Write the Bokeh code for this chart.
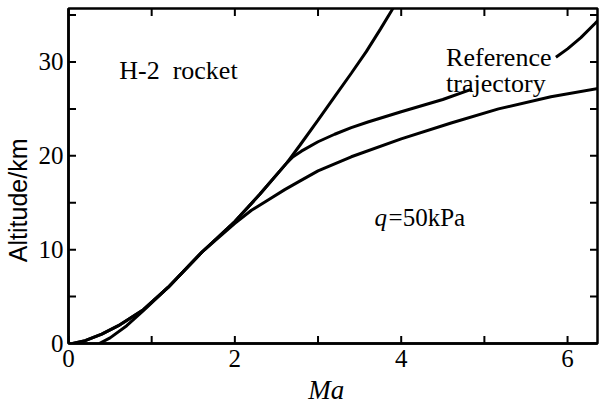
import math
from bokeh.plotting import figure
from bokeh.models import LinearAxis, Label, FixedTicker, Range1d
from bokeh.embed import file_html
from bokeh.resources import INLINE

# H-2 rocket (steep curve)
ma_rocket = [0.37, 0.5, 0.7, 0.9, 1.2, 1.6, 2.0, 2.3, 2.63, 2.78, 3.0, 3.2, 3.4, 3.58, 3.75, 3.88, 3.95]
alt_rocket = [0.0, 0.6, 1.9, 3.5, 6.0, 9.7, 13.0, 15.9, 19.3, 21.1, 23.8, 26.3, 28.8, 31.1, 33.5, 35.4, 36.5]

# Reference trajectory (lower part, then upper part after the label)
ma_ref_low = [0.05, 0.2, 0.4, 0.6, 0.9, 1.2, 1.6, 2.0, 2.3, 2.63, 2.7, 2.8, 3.0, 3.2, 3.4, 3.6, 4.0, 4.5, 4.85]
alt_ref_low = [0.0, 0.3, 1.0, 1.9, 3.6, 6.0, 9.7, 13.0, 15.9, 19.3, 19.9, 20.5, 21.5, 22.3, 23.0, 23.6, 24.7, 26.0, 27.1]
ma_ref_up = [5.86, 6.0, 6.16, 6.33, 6.45]
alt_ref_up = [30.5, 31.4, 32.6, 34.1, 35.2]

# q = 50 kPa
ma_q = [0.05, 0.2, 0.4, 0.6, 0.9, 1.2, 1.6, 2.0, 2.2, 2.4, 2.6, 2.78, 3.0, 3.4, 4.0, 4.6, 5.17, 5.8, 6.45]
alt_q = [0.0, 0.3, 1.0, 1.9, 3.6, 6.0, 9.7, 12.8, 14.2, 15.3, 16.4, 17.3, 18.4, 19.9, 21.8, 23.5, 25.0, 26.3, 27.3]

x_major = [0, 2, 4, 6]
x_minor = [1, 3, 5]
y_major = [0, 10, 20, 30]
y_minor = [5, 15, 25, 35]

X_MIN, X_MAX = 0.0, 6.36
Y_MIN, Y_MAX = 0.0, 35.7

SERIF = "Liberation Serif"
SANS = "Liberation Sans"

p = figure(width=600, height=408, output_backend="svg", toolbar_location=None,
           x_range=Range1d(X_MIN, X_MAX), y_range=Range1d(Y_MIN, Y_MAX),
           min_border_left=67, min_border_right=3, min_border_top=8, min_border_bottom=65,
           x_axis_location=None, y_axis_location=None)
p.grid.visible = False
p.background_fill_color = "white"
p.border_fill_color = "white"
p.outline_line_color = "black"
p.outline_line_width = 2.5

def style_axis(ax, major):
    ax.ticker = FixedTicker(ticks=major)
    ax.axis_line_color = "black"
    ax.axis_line_width = 2.5
    ax.major_tick_in = 0
    ax.major_tick_out = 0
    ax.minor_tick_in = 0
    ax.minor_tick_out = 0
    ax.major_label_text_font = SERIF
    ax.major_label_text_color = "black"
    ax.major_label_text_font_size = "25px"

xb = LinearAxis(axis_label="Ma" + "\u00a0" * 2)
style_axis(xb, x_major)
xb.major_label_standoff = 6
xb.axis_label_text_font = SERIF
xb.axis_label_text_font_style = "italic"
xb.axis_label_text_font_size = "27px"
xb.axis_label_standoff = 5
xb.axis_label_text_color = "black"
p.add_layout(xb, "below")

# trailing no-break spaces push the centred label a little downwards, as in the reference
yl = LinearAxis(axis_label="Altitude/km" + "\u00a0" * 7)
style_axis(yl, y_major)
yl.major_label_standoff = 5
yl.axis_label_text_font = SANS
yl.axis_label_text_font_style = "normal"
yl.axis_label_text_font_size = "25px"
yl.axis_label_standoff = 4
yl.axis_label_text_color = "black"
p.add_layout(yl, "left")

# inward tick marks on all four sides (half of each dash is clipped by the frame)
xt_all = x_major + x_minor
yt_all = y_major + y_minor
tick_kw = dict(marker="dash", size=15, line_color="black", line_width=2)
p.scatter(xt_all, [Y_MIN] * len(xt_all), angle=math.pi / 2, **tick_kw)
p.scatter(xt_all, [Y_MAX] * len(xt_all), angle=math.pi / 2, **tick_kw)
p.scatter([X_MIN] * len(yt_all), yt_all, **tick_kw)
p.scatter([X_MAX] * len(yt_all), yt_all, **tick_kw)

lw = 3
p.line(ma_rocket, alt_rocket, line_color="black", line_width=lw)
p.line(ma_ref_low, alt_ref_low, line_color="black", line_width=lw)
p.line(ma_ref_up, alt_ref_up, line_color="black", line_width=lw)
p.line(ma_q, alt_q, line_color="black", line_width=lw)

def lab(x, y, text, size="25px", style="normal", font=SERIF, xoff=0):
    p.add_layout(Label(x=x, y=y, text=text, text_font=font, text_font_size=size,
                       text_font_style=style, text_color="black", x_offset=xoff,
                       text_baseline="alphabetic", text_align="left"))

lab(0.61, 29.1, "H-2\u00a0\u00a0rocket", size="26px")
lab(4.54, 30.5, "Reference", size="26px")
lab(4.54, 27.7, "trajectory", size="26px")
lab(3.68, 13.4, "q", size="25px", style="italic")
lab(3.68, 13.4, "=50kPa", size="25px", xoff=14)

open("out.html", "w").write(file_html(p, INLINE))
